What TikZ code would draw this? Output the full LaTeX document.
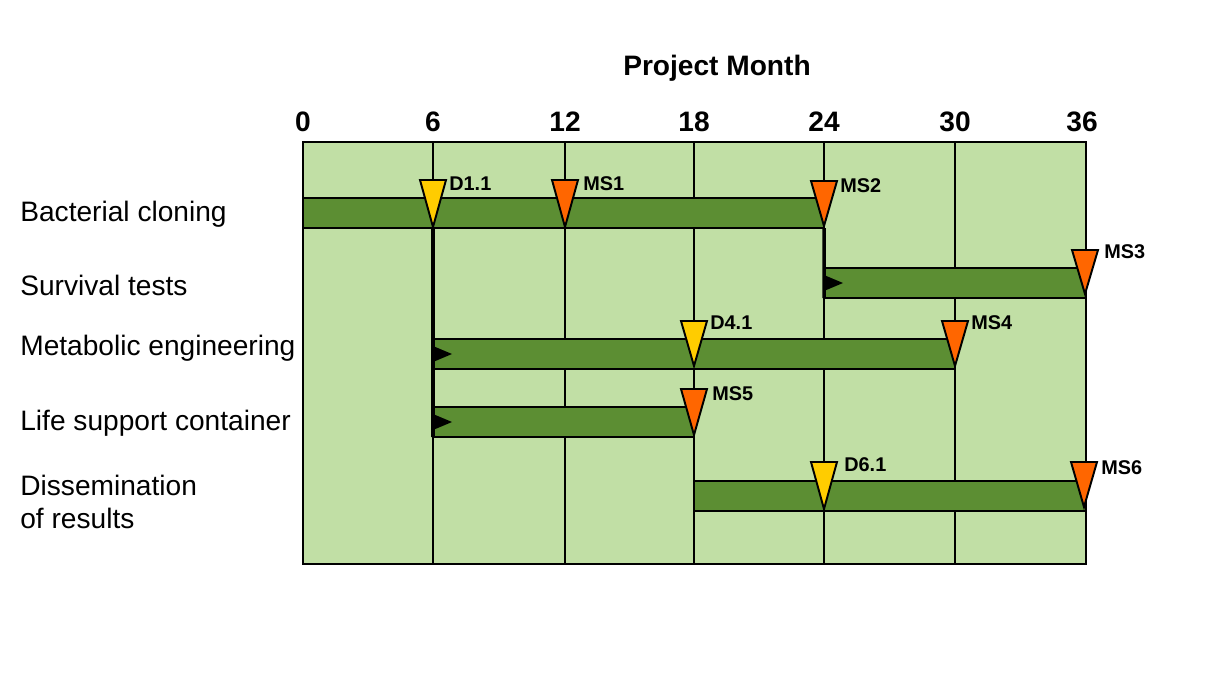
\documentclass[tikz,border=0pt]{standalone}
\usepackage{fontspec}
\setmainfont{Liberation Sans}
\usetikzlibrary{positioning,calc}

\definecolor{chartg}{HTML}{C1DFA5}
\definecolor{barg}{HTML}{5C8E33}
\definecolor{msorange}{HTML}{FF6600}
\definecolor{dyellow}{HTML}{FFCC00}

\begin{document}
\begin{tikzpicture}[
  x=0.2mm,y=-0.2mm,
  chart/.style={draw=black, line width=1.1pt, fill=chartg, minimum width=15.66cm, minimum height=8.44cm, inner sep=0pt},
  bar/.style={draw=black, line width=1.1pt, fill=barg, minimum height=6mm, inner sep=0pt, outer sep=0pt},
  gridline/.style={draw=black, line width=0.7pt},
  dep/.style={draw=black, line width=2pt},
  tri/.style={draw=black, line width=1.1pt, line join=miter},
  rowlabel/.style={anchor=base west, align=left, inner sep=0pt, font=\fontsize{16}{18.5}\selectfont},
  tick/.style={anchor=base, inner sep=0pt, font=\bfseries\fontsize{16}{18}\selectfont},
  mslabel/.style={anchor=base west, inner sep=0pt, font=\bfseries\fontsize{11.3}{13}\selectfont}
]
\useasboundingbox (0,0) rectangle (1221,679);
\node[chart] (chart) at (694.5,353) {};
\draw[gridline] (433,142) -- (433,564) (565,142) -- (565,564) (694,142) -- (694,564)
  (824,142) -- (824,564) (955,142) -- (955,564);
\node[tick] (title) at (717,75) {Project Month};
\node[tick] (t0) at (303,131) {0};
\node[tick] (t6) at (433,131) {6};
\node[tick] (t12) at (565,131) {12};
\node[tick] (t18) at (694,131) {18};
\node[tick] (t24) at (824,131) {24};
\node[tick] (t30) at (955,131) {30};
\node[tick] (t36) at (1082,131) {36};
\node[rowlabel] (lbc) at (20,221.5) {Bacterial cloning};
\node[rowlabel] (lst) at (20,295) {Survival tests};
\node[rowlabel] (lme) at (20,355) {Metabolic engineering};
\node[rowlabel] (lls) at (20,430.5) {Life support container};
\node[rowlabel] (ldr) at (20,528) {Dissemination\\of results};
\node[bar, minimum width=10.42cm] (bc) at (563.5,213) {};
\node[bar, minimum width=5.24cm] (st) at (955,283) {};
\node[bar, minimum width=10.44cm] (me) at (694,354) {};
\node[bar, minimum width=5.22cm] (ls) at (563.5,422) {};
\node[bar, minimum width=7.84cm] (dr) at (890,496) {};
% dependencies
\draw[dep] (me.west |- bc.south) -- (ls.south west);
\draw[dep] (bc.south east) -- (st.south west);
\fill (st.west) ++(0,-8) -- ++(19,8) -- ++(-19,8) -- cycle;
\fill (me.west) ++(0,-8) -- ++(19,8) -- ++(-19,8) -- cycle;
\fill (ls.west) ++(0,-8) -- ++(19,8) -- ++(-19,8) -- cycle;
% milestones and deliverables
\draw[tri, fill=dyellow] (420,180) -- (446,180) -- (433,227) -- cycle;
\node[mslabel] (d11) at (449,190) {D1.1};
\draw[tri, fill=msorange] (552,180) -- (578,180) -- (565,227) -- cycle;
\node[mslabel] (ms1) at (583,190) {MS1};
\draw[tri, fill=msorange] (811,181) -- (837,181) -- (824,226) -- cycle;
\node[mslabel] (ms2) at (840,192) {MS2};
\draw[tri, fill=msorange] (1072,250) -- (1098,250) -- (1085,294) -- cycle;
\node[mslabel] (ms3) at (1104,258) {MS3};
\draw[tri, fill=dyellow] (681,321) -- (707,321) -- (694,366) -- cycle;
\node[mslabel] (d41) at (710,329) {D4.1};
\draw[tri, fill=msorange] (942,321) -- (968,321) -- (955,366) -- cycle;
\node[mslabel] (ms4) at (971,329) {MS4};
\draw[tri, fill=msorange] (681,389) -- (707,389) -- (694,435) -- cycle;
\node[mslabel] (ms5) at (712,400) {MS5};
\draw[tri, fill=dyellow] (811,462) -- (837,462) -- (824,509) -- cycle;
\node[mslabel] (d61) at (844,471) {D6.1};
\draw[tri, fill=msorange] (1071,462) -- (1097,462) -- (1084,507) -- cycle;
\node[mslabel] (ms6) at (1101,474) {MS6};
\end{tikzpicture}
\end{document}
